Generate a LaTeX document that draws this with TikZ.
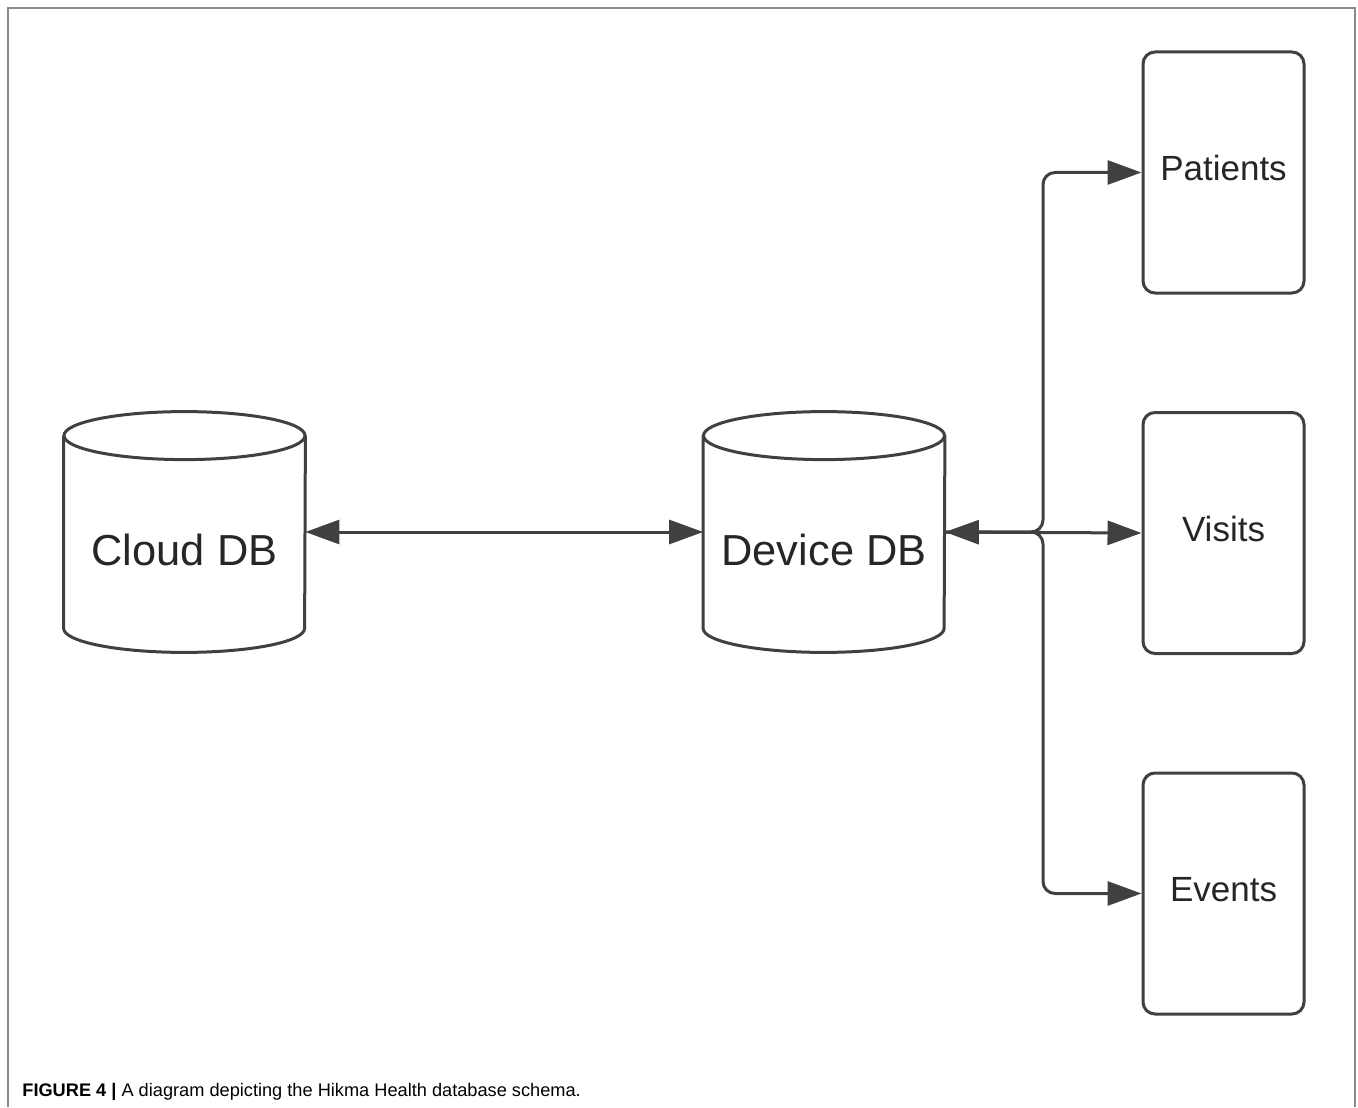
\documentclass[tikz,border=0pt]{standalone}
\usepackage{fontspec}
\setmainfont{Liberation Sans}
\usetikzlibrary{positioning,arrows.meta}
\definecolor{linegray}{HTML}{404040}
\definecolor{framegray}{HTML}{8A8A8A}

\begin{document}
\begin{tikzpicture}[x=0.5pt, y=-0.5pt,
    dbbody/.style={rectangle, minimum width=120.5pt, minimum height=120pt, inner sep=0pt},
    dbline/.style={draw=linegray, line width=1.5pt, fill=white},
    dblabel/.style={font=\fontsize{21.7}{26}\selectfont, text=black!85},
    tablebox/.style={draw=linegray, line width=1.5pt, rectangle, rounded corners=6pt, text depth=4.5pt,
      minimum width=80.5pt, minimum height=120.5pt, font=\fontsize{17.5}{21}\selectfont, text=black!85},
    link/.style={draw=linegray, line width=1.5pt, rounded corners=6pt,
      >={Triangle[length=17pt,width=12pt]}},
  ]
  \useasboundingbox (0,0) rectangle (1358,1107);

  % Frame round the figure
  \draw[framegray, line width=1pt] (8,1107) -- (8,8) -- (1355,8) -- (1355,1107);

  % Databases
  \node[dbbody] (cloud) at (184.5,532) {};
  \node[dbbody] (device) at (824,532) {};
  \foreach \db in {cloud, device} {
    \draw[dbline] ([yshift=-12pt]\db.north west) -- ([yshift=12pt]\db.south west)
      arc[start angle=180, end angle=360, x radius=60.25pt, y radius=12pt]
      -- ([yshift=-12pt]\db.north east);
    \draw[dbline] ([yshift=-12pt]\db.north) ellipse[x radius=60.25pt, y radius=12pt];
  }
  \node[dblabel] (cloudtxt) at ([yshift=-9pt]cloud.center) {Cloud DB};
  \node[dblabel] (devicetxt) at ([yshift=-9pt]device.center) {Device DB};

  % Tables on the device
  \node[tablebox] (patients) at (1223.5,172.5) {Patients};
  \node[tablebox] (visits) at (1223.5,533) {Visits};
  \node[tablebox] (events) at (1223.5,893.5) {Events};

  % Sync between the databases
  \draw[link, <->] (cloud.east) -- (device.west);

  % Device DB to its tables
  \coordinate (fork) at (1043,532);
  \draw[link, <->] (device.east) -- (visits.west);
  \draw[link, ->] (device.east) -- (fork) |- (patients.west);
  \draw[link, ->] (device.east) -- (fork) |- (events.west);

  % Caption
  \node[anchor=base west, inner sep=0pt, font=\fontsize{9.1}{11}\selectfont] (caption) at (22,1096)
    {\textbf{FIGURE 4 |} A diagram depicting the Hikma Health database schema.};
\end{tikzpicture}
\end{document}
